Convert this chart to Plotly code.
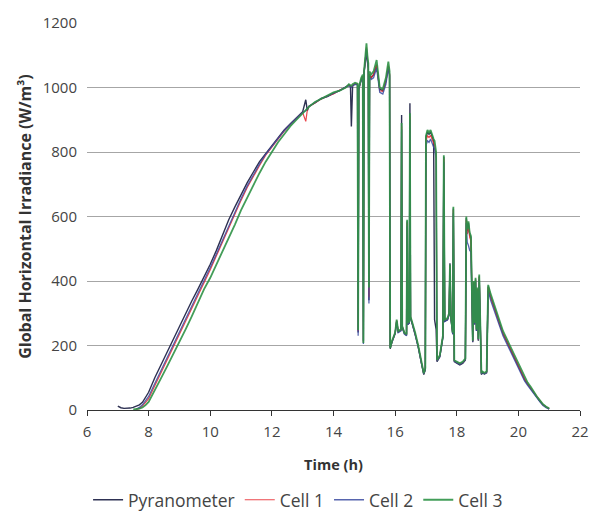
import plotly.graph_objects as go

# ---------------- data ----------------
hours_am = [7.0, 7.1, 7.2, 7.3, 7.4, 7.5, 7.6, 7.7, 7.8, 7.9, 8.0,
            8.2, 8.4, 8.6, 8.8, 9.0, 9.2, 9.4, 9.6, 9.8, 10.0, 10.2, 10.4, 10.6, 10.8,
            11.0, 11.2, 11.4, 11.6, 11.8, 12.0, 12.2, 12.4, 12.6, 12.8, 13.0,
            13.1, 13.15, 13.2,
            13.4, 13.6, 13.8, 14.0, 14.2, 14.4]

pyr_am = [12, 7, 5, 5, 6, 8, 11, 16, 24, 38, 55,
          100, 140, 180, 220, 262, 300, 338, 375, 413, 452, 495, 542, 590, 630,
          668, 705, 738, 770, 795, 820, 845, 868, 888, 905, 925,
          962, 928, 942,
          952, 966, 972, 982, 990, 1002]

cell1_am = [None, None, None, None, None, None, 2, 5, 12, 22, 35,
            75, 115, 155, 190, 232, 272, 312, 352, 393, 435, 478, 522, 565, 610,
            650, 690, 725, 758, 790, 815, 840, 865, 885, 903, 922,
            895, 930, 940,
            953, 964, 974, 980, 992, 1000]

cell2_am = [None, None, None, None, None, None, 3, 8, 16, 28, 42,
            82, 122, 162, 198, 240, 280, 320, 360, 400, 442, 484, 528, 572, 616,
            656, 695, 730, 763, 793, 818, 842, 866, 886, 904, 923,
            928, 933, 940,
            954, 965, 973, 981, 991, 1001]

cell3_am = [None, None, None, None, None, 2, 3, 4, 8, 15, 25,
            60, 98, 135, 172, 210, 250, 290, 335, 375, 410, 450, 490, 535, 575,
            620, 660, 700, 735, 770, 800, 830, 855, 880, 900, 920,
            930, 935, 940,
            955, 965, 975, 985, 990, 1000]

hours_pm = [14.5, 14.55, 14.58, 14.62, 14.7, 14.78, 14.8, 14.82, 14.86, 14.9,
            14.95, 14.97, 14.99, 15.03, 15.07, 15.1, 15.13, 15.15, 15.17, 15.22,
            15.3, 15.4, 15.5, 15.6, 15.7, 15.78, 15.82, 15.84, 15.9, 16.0,
            16.05, 16.1, 16.19, 16.21, 16.23, 16.3, 16.37, 16.39, 16.41, 16.46,
            16.48, 16.5, 16.55, 16.65, 16.75, 16.85, 16.93, 16.98, 17.0, 17.05,
            17.1, 17.15, 17.2, 17.25, 17.28, 17.33, 17.36, 17.45, 17.55, 17.58,
            17.61, 17.7, 17.75, 17.78, 17.81, 17.87, 17.89, 17.92, 18.0, 18.1,
            18.2, 18.28, 18.31, 18.34, 18.38, 18.42, 18.46, 18.5, 18.52, 18.55,
            18.58, 18.61, 18.64, 18.67, 18.7, 18.73, 18.76, 18.8, 18.83, 18.9,
            18.97, 19.02, 19.1, 19.2, 19.3, 19.4, 19.5, 19.6, 19.7, 19.8,
            19.9, 20.0, 20.1, 20.2, 20.3, 20.4, 20.5, 20.6, 20.7, 20.8, 20.9, 21.0]

pyr_pm = [1008, 1005, 879, 1005, 1012, 1010, 240, 995, 1015, 1025,
          1035, 215, 1045, 1080, 1110, 1080, 1060, 340, 1040, 1030,
          1040, 1070, 995, 990, 1020, 1065, 1040, 190, 212, 238,
          275, 242, 248, 915, 258, 238, 232, 585, 265, 270,
          951, 285, 270, 235, 195, 145, 110, 125, 845, 862,
          855, 862, 845, 835, 280, 250, 150, 165, 225, 785,
          275, 280, 295, 455, 285, 235, 625, 150, 145, 140,
          145, 155, 595, 555, 580, 545, 535, 335, 210, 395,
          265, 405, 245, 375, 215, 415, 295, 110, 115, 112,
          115, 383, 352, 322, 292, 262, 237, 217, 197, 172,
          152, 133, 113, 95, 80, 67, 51, 38, 27, 16, 8, 3]

cell1_pm = [1007, 1004, 1002, 1006, 1012, 1010, 245, 995, 1015, 1025,
            1035, 210, 1045, 1090, 1125, 1090, 1065, 350, 1040, 1030,
            1040, 1070, 990, 988, 1018, 1068, 1040, 195, 213, 238,
            278, 243, 248, 880, 258, 238, 233, 580, 268, 272,
            910, 288, 272, 238, 198, 148, 113, 128, 835, 850,
            845, 852, 838, 828, 820, 790, 153, 168, 228, 780,
            278, 282, 298, 445, 288, 238, 620, 153, 148, 143,
            148, 158, 590, 545, 565, 535, 525, 335, 213, 395,
            268, 405, 248, 375, 218, 412, 298, 113, 118, 113,
            118, 380, 350, 320, 292, 262, 238, 218, 198, 175,
            155, 135, 115, 96, 81, 68, 52, 39, 28, 16, 9, 4]

cell2_pm = [1005, 1003, 1000, 1005, 1010, 1008, 230, 990, 1012, 1020,
            1030, 205, 1040, 1085, 1120, 1085, 1060, 330, 1035, 1025,
            1030, 1060, 985, 980, 1010, 1060, 1035, 195, 212, 236,
            275, 240, 245, 870, 255, 235, 230, 570, 265, 270,
            900, 285, 270, 235, 195, 145, 112, 125, 820, 835,
            830, 840, 825, 815, 810, 780, 152, 165, 225, 770,
            275, 280, 295, 440, 285, 235, 610, 152, 147, 142,
            147, 157, 580, 520, 510, 495, 490, 330, 212, 390,
            265, 400, 245, 370, 218, 405, 295, 112, 117, 112,
            117, 370, 340, 312, 283, 253, 230, 210, 190, 166,
            147, 128, 108, 90, 76, 63, 48, 36, 25, 14, 7, 3]

cell3_pm = [1010, 1008, 1005, 1010, 1015, 1012, 248, 1000, 1020, 1030,
            1040, 208, 1050, 1100, 1137, 1100, 1075, 380, 1050, 1040,
            1050, 1085, 1000, 995, 1030, 1080, 1050, 192, 215, 240,
            280, 245, 250, 890, 260, 240, 235, 590, 270, 275,
            920, 290, 275, 240, 200, 150, 114, 130, 850, 868,
            860, 868, 850, 840, 835, 800, 155, 170, 230, 790,
            280, 285, 300, 450, 290, 240, 630, 155, 150, 145,
            150, 160, 600, 560, 585, 550, 540, 340, 215, 400,
            270, 410, 250, 380, 220, 420, 300, 114, 120, 115,
            120, 388, 360, 330, 300, 270, 245, 225, 205, 180,
            160, 140, 120, 100, 85, 72, 55, 42, 30, 18, 10, 5]

series_names = ["Pyranometer", "Cell 1", "Cell 2", "Cell 3"]
x_ticks = [6, 8, 10, 12, 14, 16, 18, 20, 22]
y_ticks = [0, 200, 400, 600, 800, 1000, 1200]

# ---------------- figure ----------------
hours = hours_am + hours_pm
values = [pyr_am + pyr_pm, cell1_am + cell1_pm, cell2_am + cell2_pm, cell3_am + cell3_pm]
colors = ["#23264a", "#e8262d", "#3a4aa0", "#2f9347"]
widths = [1.4, 1.2, 1.3, 1.8]
opac = [0.95, 0.85, 0.85, 0.9]

fig = go.Figure()
for name, vals, c, w, o in zip(series_names, values, colors, widths, opac):
    assert len(vals) == len(hours)
    fig.add_trace(go.Scatter(x=hours, y=vals, mode="lines", name=name,
                             line=dict(color=c, width=w), opacity=o,
                             connectgaps=False))

font = "Open Sans, Noto Sans, sans-serif"
# page body has an 8px margin: figure is 592x505 so it fills the 600x513 window
fig.update_layout(
    width=592, height=505,
    margin=dict(l=79, r=20, t=15, b=103),
    paper_bgcolor="white", plot_bgcolor="white",
    font=dict(family=font, size=15, color="#444444"),
    showlegend=True,
    legend=dict(orientation="h", xref="container", yref="container",
                x=0.49, xanchor="center", y=0.026, yanchor="middle",
                font=dict(size=17.5, color="#444444"), itemwidth=30,
                traceorder="normal"),
    xaxis=dict(range=[6, 22], tickvals=x_ticks, showgrid=False, zeroline=False,
               automargin=False,
               showline=True, linecolor="#333333", linewidth=1.2,
               ticks="outside", ticklen=5, tickcolor="#333333",
               ticklabelstandoff=3,
               title=dict(text="<b>Time (h)</b>", font=dict(size=14.5, color="#333333"),
                          standoff=19)),
    yaxis=dict(range=[0, 1200], tickvals=y_ticks, showgrid=True, automargin=False,
               gridcolor="#a6a6a6", gridwidth=1, zeroline=False, showline=False,
               ticks="", ticklabelstandoff=9,
               title=dict(text="<b>Global Horizontal Irradiance (W/m³)</b>",
                          font=dict(size=16, color="#333333"), standoff=7)),
)

fig.write_html("out.html")
